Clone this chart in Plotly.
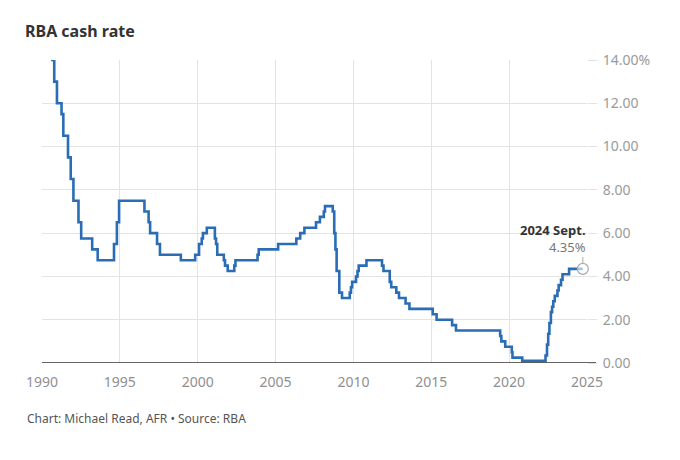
import plotly.graph_objects as go

dates = ["1990-08-02","1990-10-15","1990-12-18","1991-04-04","1991-05-16","1991-09-03","1991-11-06",
 "1992-01-08","1992-05-06","1992-07-08","1993-03-23","1993-07-30","1994-08-17","1994-10-24","1994-12-14",
 "1996-07-31","1996-11-06","1996-12-11","1997-05-23","1997-07-30","1998-12-02","1999-11-03","2000-02-02",
 "2000-04-05","2000-05-03","2000-08-02","2001-02-07","2001-03-07","2001-04-04","2001-09-05","2001-10-03",
 "2001-12-05","2002-05-08","2002-06-05","2003-11-05","2003-12-03","2005-03-02","2006-05-03","2006-08-02",
 "2006-11-08","2007-08-08","2007-11-07","2008-02-06","2008-03-05","2008-09-03","2008-10-08","2008-11-05",
 "2008-12-03","2009-02-04","2009-04-08","2009-10-07","2009-11-04","2009-12-02","2010-03-03","2010-04-07",
 "2010-05-05","2010-11-03","2011-11-02","2011-12-07","2012-05-02","2012-06-06","2012-10-03","2012-12-05",
 "2013-05-08","2013-08-07","2015-02-04","2015-05-06","2016-05-04","2016-08-03","2019-06-05","2019-07-03",
 "2019-10-02","2020-03-04","2020-03-20","2020-11-04","2022-05-04","2022-06-08","2022-07-06","2022-08-03",
 "2022-09-07","2022-10-05","2022-11-02","2022-12-07","2023-02-08","2023-03-08","2023-05-03","2023-06-07",
 "2023-11-08","2024-09-25"]
rates = [14.00,13.00,12.00,11.50,10.50,9.50,8.50,
 7.50,6.50,5.75,5.25,4.75,5.50,6.50,7.50,
 7.00,6.50,6.00,5.50,5.00,4.75,5.00,5.50,
 5.75,6.00,6.25,5.75,5.50,5.00,4.75,4.50,
 4.25,4.50,4.75,5.00,5.25,5.50,5.75,6.00,
 6.25,6.50,6.75,7.00,7.25,7.00,6.00,5.25,
 4.25,3.25,3.00,3.25,3.50,3.75,4.00,4.25,
 4.50,4.75,4.50,4.25,3.75,3.50,3.25,3.00,
 2.75,2.50,2.25,2.00,1.75,1.50,1.25,1.00,
 0.75,0.50,0.25,0.10,0.35,0.85,1.35,1.85,
 2.35,2.60,2.85,3.10,3.35,3.60,3.85,4.10,
 4.35,4.35]

x_ticks = ["1990-01-01","1995-01-01","2000-01-01","2005-01-01","2010-01-01","2015-01-01","2020-01-01","2025-01-01"]
x_labels = ["1990","1995","2000","2005","2010","2015","2020","2025"]
y_ticks = [0, 2, 4, 6, 8, 10, 12, 14]
y_labels = ["0.00","2.00","4.00","6.00","8.00","10.00","12.00","14.00%"]

end_label = "2024 Sept."
end_value_label = "4.35%"

FONT = "Noto Sans"
LINE = "#2a6db5"

# page has an 8px body margin: figure coords = page coords - 8
OFF = 8
W, H = 672, 452
L, R, T, B = 42 - OFF, W - (587 - OFF), 60 - OFF, H - (363 - OFF)
PW, PH = W - L - R, H - T - B

fig = go.Figure()
fig.add_trace(go.Scatter(x=dates, y=rates, mode="lines", line=dict(color=LINE, width=2.6, shape="hv"),
                         hoverinfo="skip", showlegend=False))
fig.add_trace(go.Scatter(x=[dates[-1]], y=[rates[-1]], mode="markers",
                         marker=dict(size=11, color="rgba(255,255,255,0.6)", line=dict(color="#aaaaaa", width=1.2)),
                         hoverinfo="skip", showlegend=False, cliponaxis=False))

fig.add_shape(type="line", xref="x", yref="y", x0=dates[-1], x1=dates[-1], y0=rates[-1] + 0.27, y1=rates[-1] + 0.55,
              line=dict(color="#aaaaaa", width=1))
fig.add_annotation(x=dates[-1], y=rates[-1] + 0.5, xref="x", yref="y", xanchor="right", yanchor="bottom",
                   xshift=5, showarrow=False, align="right",
                   text=f"<b>{end_label}</b><br><span style='color:#777777'>{end_value_label}</span>",
                   font=dict(family=FONT, size=13, color="#333333"))

fig.add_shape(type="line", xref="paper", yref="y", x0=0, x1=1 + 9 / PW, y0=0, y1=0,
              line=dict(color="#333333", width=1.5), layer="above")

fig.update_layout(
    width=W, height=H,
    margin=dict(l=L, r=R, t=T, b=B),
    paper_bgcolor="white", plot_bgcolor="white",
    font=dict(family=FONT, color="#999999"),
    title=dict(text="<b>RBA cash rate</b>", x=(25 - OFF) / W, xanchor="left", y=1 - (31 - OFF) / H, yanchor="middle",
               font=dict(family=FONT, size=16, color="#333333")),
    xaxis=dict(type="date", range=["1990-01-01", "2025-01-01"], tickvals=x_ticks, ticktext=x_labels,
               showgrid=True, gridcolor="#e3e3e3", gridwidth=1, zeroline=False, showline=False,
               ticks="outside", ticklen=6, tickcolor="rgba(0,0,0,0)",
               tickfont=dict(family=FONT, size=14, color="#8f8f8f")),
    yaxis=dict(range=[0, 14], side="right", tickvals=y_ticks, ticktext=y_labels,
               showgrid=True, gridcolor="#e3e3e3", gridwidth=1, zeroline=False, showline=False,
               ticks="outside", ticklen=9, tickcolor="#e3e3e3", ticklabelstandoff=3,
               tickfont=dict(family=FONT, size=14, color="#9a9a9a")),
)

fig.add_annotation(x=(25 - 42) / PW, y=-(418 - 363) / PH, xref="paper", yref="paper", xanchor="left", yanchor="middle",
                   showarrow=False, text="Chart: Michael Read, AFR • Source: RBA",
                   font=dict(family=FONT, size=12, color="#555555"))

fig.write_html("out.html")
